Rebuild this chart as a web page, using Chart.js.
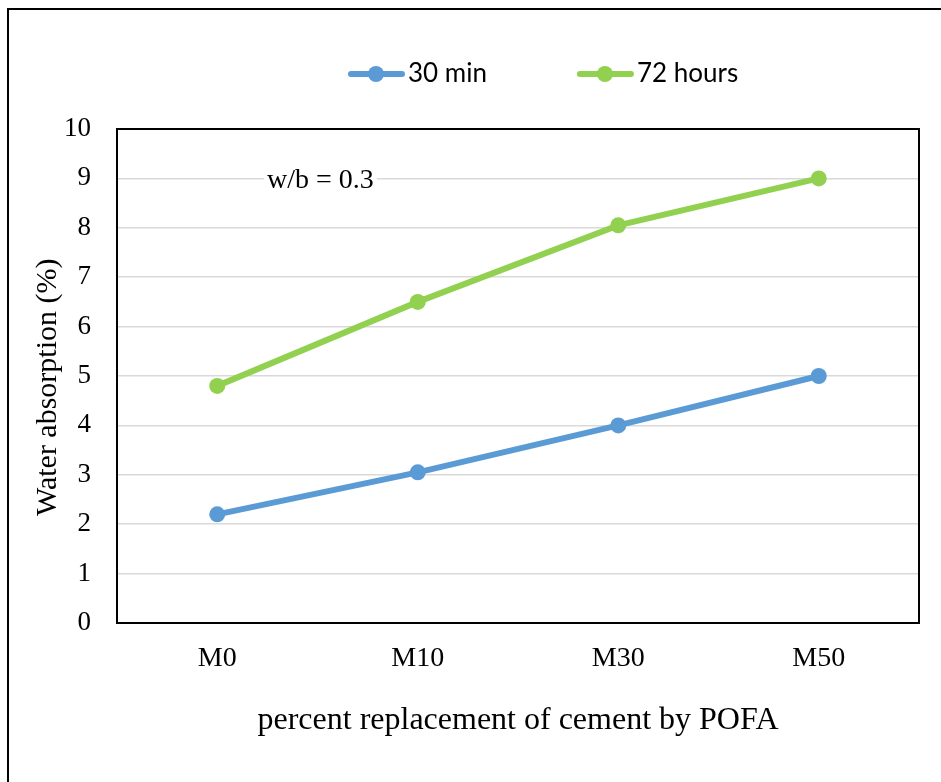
<!DOCTYPE html>
<html>
<head>
<meta charset="utf-8">
<script src="https://cdn.jsdelivr.net/npm/chart.js@4.4.1/dist/chart.umd.min.js"></script>
<style>
  html, body { margin: 0; padding: 0; background: #fff; overflow: hidden; }
  #frame { position: absolute; left: 7px; top: 8px; width: 1000px; height: 900px; border: 2px solid #000; }
  #chart { position: absolute; left: 0; top: 0; }
</style>
</head>
<body>
<div id="frame"></div>
<canvas id="chart" width="941" height="782"></canvas>
<script>
// mixes: percent of cement replaced by POFA
const mixes = ['M0', 'M10', 'M30', 'M50'];
const absorption30min = [2.2, 3.05, 4.0, 5.0];
const absorption72h = [4.8, 6.5, 8.05, 9.0];
const seriesNames = ['30 min', '72 hours'];
const seriesColors = ['#5B9BD5', '#92D050'];
const note = 'w/b = 0.3';

const serif = '"Liberation Serif", "Times New Roman", serif';
const sans = 'Lato, "Open Sans", sans-serif';

// box round the plot area, drawn under the lines
const plotBox = {
    id: 'plotBox',
    beforeDatasetsDraw(chart) {
        const { ctx, chartArea: a } = chart;
        ctx.save();
        ctx.strokeStyle = '#000';
        ctx.lineWidth = 2;
        ctx.strokeRect(a.left, a.top, a.right - a.left, a.bottom - a.top);
        ctx.restore();
    }
};

// legend like the Excel one + the w/b note
const extras = {
    id: 'extras',
    afterDraw(chart) {
        const { ctx } = chart;
        ctx.save();
        ctx.font = '26px ' + sans;
        ctx.textBaseline = 'middle';
        let x = 348;
        const y = 74;
        chart.data.datasets.forEach(ds => {
            ctx.strokeStyle = ds.borderColor;
            ctx.lineWidth = 6;
            ctx.lineCap = 'round';
            ctx.beginPath(); ctx.moveTo(x + 3, y); ctx.lineTo(x + 54, y); ctx.stroke();
            ctx.fillStyle = ds.borderColor;
            ctx.beginPath(); ctx.arc(x + 28, y, 8, 0, Math.PI * 2); ctx.fill();
            ctx.fillStyle = '#000';
            ctx.fillText(ds.label, x + 60, y);
            x += 60 + ctx.measureText(ds.label).width + 90;
        });

        ctx.font = '28px ' + serif;
        ctx.textBaseline = 'alphabetic';
        const w = ctx.measureText(note).width;
        ctx.fillStyle = '#fff';
        ctx.fillRect(264, 164, w + 6, 30);
        ctx.fillStyle = '#000';
        ctx.fillText(note, 267, 188);
        ctx.restore();
    }
};

new Chart(document.getElementById('chart'), {
    type: 'line',
    data: {
        labels: mixes,
        datasets: [absorption30min, absorption72h].map((vals, i) => ({
            label: seriesNames[i],
            data: vals,
            borderColor: seriesColors[i],
            backgroundColor: seriesColors[i],
            pointBackgroundColor: seriesColors[i],
            borderWidth: 6,
            pointRadius: 8,
            pointBorderWidth: 0,
            tension: 0
        }))
    },
    options: {
        responsive: false,
        animation: false,
        devicePixelRatio: 1,
        layout: { padding: { top: 129, right: 22, left: 0, bottom: 0 } },
        plugins: { legend: { display: false }, tooltip: { enabled: false } },
        scales: {
            x: {
                offset: true,
                grid: { display: false, drawTicks: false },
                border: { display: false },
                ticks: { color: '#000', font: { family: serif, size: 28 }, padding: 19 },
                title: {
                    display: true,
                    text: 'percent replacement of cement by POFA',
                    color: '#000',
                    font: { family: serif, size: 32 },
                    padding: { top: 0, bottom: 42 }
                },
                afterFit(scale) { scale.height = 159; }
            },
            y: {
                min: 0,
                max: 10,
                ticks: { stepSize: 1, color: '#000', font: { family: serif, size: 27 }, padding: 26 },
                grid: { color: '#d9d9d9', lineWidth: 1.5, drawTicks: false },
                border: { display: false },
                title: {
                    display: true,
                    text: 'Water absorption (%)\u00a0\u00a0\u00a0',
                    color: '#000',
                    font: { family: serif, size: 30 },
                    padding: { top: 30, bottom: 0 }
                },
                afterFit(scale) { scale.width = 117; }
            }
        }
    },
    plugins: [plotBox, extras]
});
</script>
</body>
</html>
